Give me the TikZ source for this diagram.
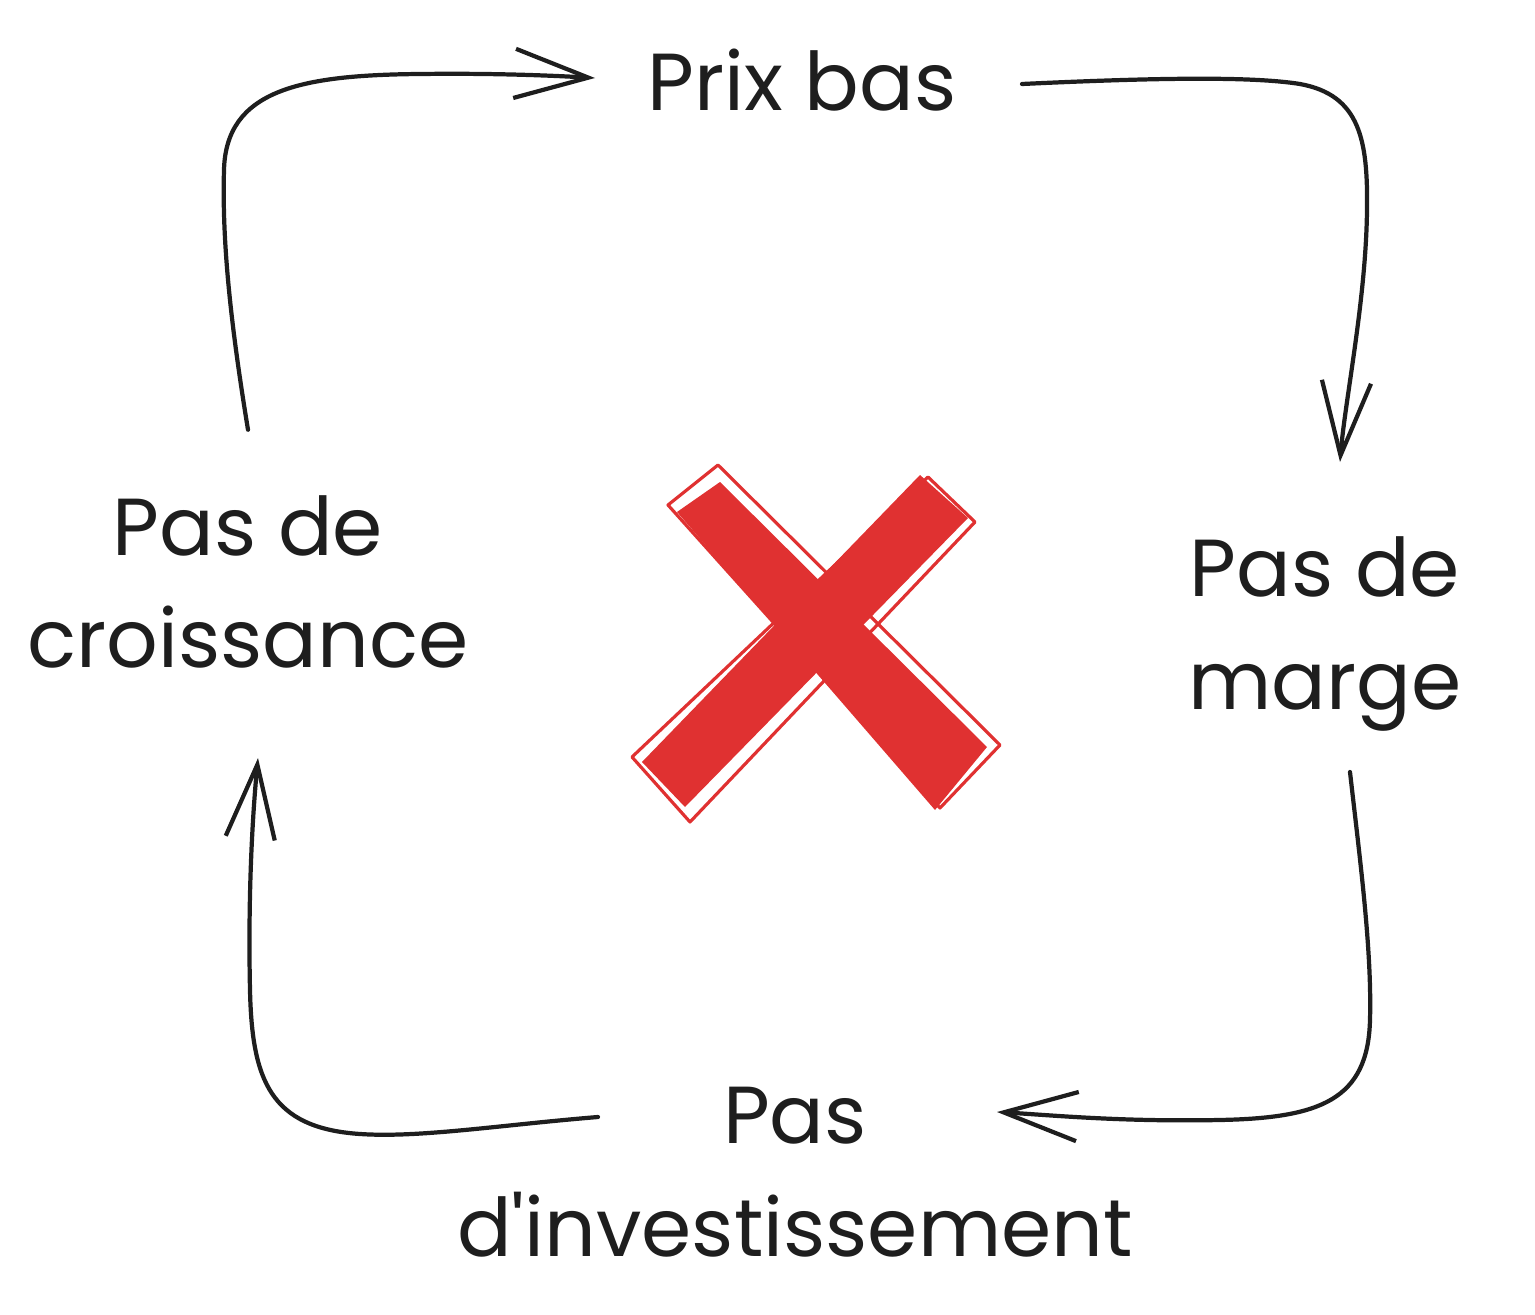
\documentclass[tikz,border=0pt]{standalone}
\usepackage{fontspec}
\setmainfont{Poppins}
\usepackage{xcolor}
\usepackage{tikz}
\usetikzlibrary{arrows.meta}
\definecolor{ink}{HTML}{1E1E1E}
\definecolor{xred}{HTML}{E03131}

\begin{document}
\begin{tikzpicture}[x=0.01cm, y=-0.01cm,
    txt/.style={inner sep=0pt, align=center, text=ink, font=\fontsize{23pt}{32pt}\selectfont},
    flow/.style={draw=ink, line width=1.2pt, line cap=round, line join=round,
      -{Straight Barb[length=21pt, width=14pt, line width=1.2pt]}},
    band/.style={fill=xred, draw=none},
    rough/.style={draw=xred, line width=0.9pt, line join=round}]
    \useasboundingbox (0,0) rectangle (1535,1315);
    \node[txt] (prix) at (802,80) {Prix bas};
    \node[txt] (marge) at (1325,634) {Pas de\\marge};
    \node[txt] (invest) at (795,1172) {Pas\\d\textquotesingle investissement};
    \node[txt] (croiss) at (248,582) {Pas de\\croissance};
    % arrows round the loop
    \draw[flow] (croiss.north) ++(0,-65) .. controls (230,320) and (222,240) .. (224,170)
      .. controls (226,90) and (300,75) .. (420,74) .. controls (500,73) and (560,76) .. (595,78);
    \draw[flow] (1022,84) .. controls (1150,78) and (1250,76) .. (1300,84)
      .. controls (1360,95) and (1368,140) .. (1367,210) .. controls (1366,300) and (1345,400) .. (1340,462);
    \draw[flow] (1350,772) .. controls (1360,860) and (1372,950) .. (1370,1020)
      .. controls (1368,1100) and (1320,1118) .. (1220,1120) .. controls (1120,1122) and (1050,1115) .. (997,1112);
    \draw[flow] (598,1117) .. controls (500,1125) and (420,1138) .. (360,1134)
      .. controls (270,1128) and (252,1080) .. (250,990) .. controls (248,900) and (252,820) .. (258,758);
    % red cross
    \fill[band] (677,512) -- (720,482) -- (987,747) -- (935,810) -- cycle;
    \fill[band] (920,475) -- (968,518) -- (685,807) -- (642,762) -- cycle;
    \draw[rough] (668,505) -- (718,465) -- (1000,745) -- (940,808) -- cycle;
    \draw[rough] (928,477) -- (975,522) -- (690,822) -- (632,757) -- cycle;
  \end{tikzpicture}
\end{document}
